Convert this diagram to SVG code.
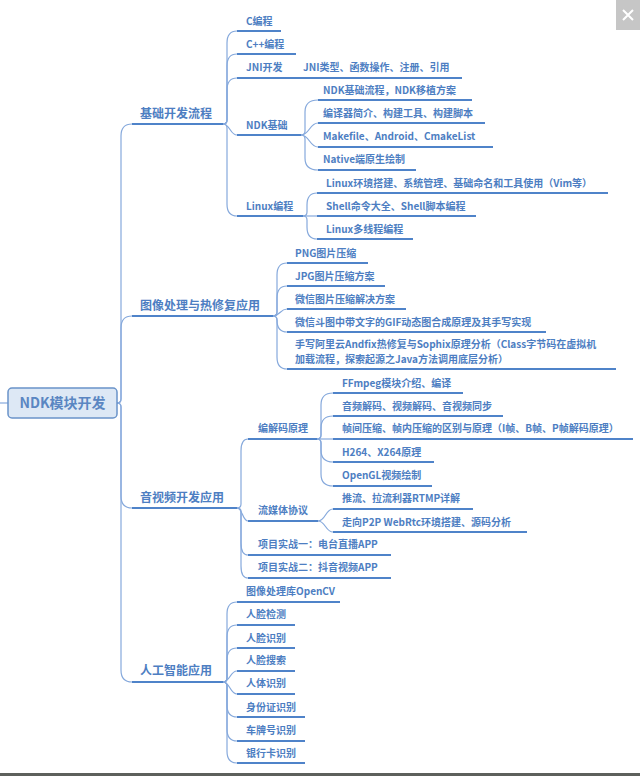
<svg xmlns="http://www.w3.org/2000/svg" width="640" height="776" viewBox="0 0 640 776">
<style>
.t{font-family:"Noto Sans CJK SC","Noto Sans",sans-serif;font-size:10px;font-weight:bold;fill:#4d7ec2}
.t1{font-size:12px}
.tr{font-size:14px;fill:#5a86c2}
.u{stroke:#4f83c9;stroke-width:2;fill:none}
.c{stroke:#86a9dc;stroke-width:1.2;fill:none}
</style>
<rect width="640" height="776" fill="#ffffff"/>
<g id="connectors">
<path class="c" d="M0 403H8"/>
<path class="c" d="M117 403Q121 403 121 399V136Q121 124 132 124"/>
<path class="c" d="M117 403Q121 403 121 399V328Q121 316 132 316"/>
<path class="c" d="M117 403Q121 403 121 407V496Q121 508 132 508"/>
<path class="c" d="M117 403Q121 403 121 407V670Q121 682 132 682"/>
<path class="c" d="M223 124Q227 124 227 120V43Q227 31 237 31"/>
<path class="c" d="M223 124Q227 124 227 120V66Q227 54 237 54"/>
<path class="c" d="M223 124Q227 124 227 120V90Q227 78 237 78"/>
<path class="c" d="M223 124C230 124 230 135 237 135"/>
<path class="c" d="M223 124Q227 124 227 128V204Q227 216 237 216"/>
<path class="c" d="M301 135Q305 135 305 131V112Q305 100 318 100"/>
<path class="c" d="M301 135C309.5 135 309.5 123 318 123"/>
<path class="c" d="M301 135C309.5 135 309.5 147 318 147"/>
<path class="c" d="M301 135Q305 135 305 139V158Q305 170 318 170"/>
<path class="c" d="M303 216Q307 216 307 212V205Q307 193 317 193"/>
<path class="c" d="M303 216H317"/>
<path class="c" d="M303 216Q307 216 307 220V227Q307 239 317 239"/>
<path class="c" d="M273 316Q277 316 277 312V275Q277 263 287 263"/>
<path class="c" d="M273 316Q277 316 277 312V298Q277 286 287 286"/>
<path class="c" d="M273 316C280 316 280 309 287 309"/>
<path class="c" d="M273 316Q277 316 277 320Q277 332 287 332"/>
<path class="c" d="M273 316Q277 316 277 320V357Q277 369 287 369"/>
<path class="c" d="M237 508Q241 508 241 504V451Q241 439 248 439"/>
<path class="c" d="M237 508C242.5 508 242.5 521 248 521"/>
<path class="c" d="M237 508Q241 508 241 512V543Q241 555 248 555"/>
<path class="c" d="M237 508Q241 508 241 512V566Q241 578 248 578"/>
<path class="c" d="M317 439Q321 439 321 435V405Q321 393 333 393"/>
<path class="c" d="M317 439Q321 439 321 435V428Q321 416 333 416"/>
<path class="c" d="M317 439H333"/>
<path class="c" d="M317 439Q321 439 321 443V450Q321 462 333 462"/>
<path class="c" d="M317 439Q321 439 321 443V474Q321 486 333 486"/>
<path class="c" d="M318 521C325.5 521 325.5 509 333 509"/>
<path class="c" d="M318 521C325.5 521 325.5 532 333 532"/>
<path class="c" d="M223 682Q227 682 227 678V614Q227 602 237 602"/>
<path class="c" d="M223 682Q227 682 227 678V637Q227 625 237 625"/>
<path class="c" d="M223 682Q227 682 227 678V660Q227 648 237 648"/>
<path class="c" d="M223 682C230 682 230 671 237 671"/>
<path class="c" d="M223 682C230 682 230 694 237 694"/>
<path class="c" d="M223 682Q227 682 227 686V705Q227 717 237 717"/>
<path class="c" d="M223 682Q227 682 227 686V729Q227 741 237 741"/>
<path class="c" d="M223 682Q227 682 227 686V751Q227 763 237 763"/>
</g>
<g id="root">
<rect x="8" y="388" width="109" height="30" rx="4" fill="#dde8f5" stroke="#6a93c9" stroke-width="1.5"/>
<text class="t tr" x="62.5" y="408" text-anchor="middle">NDK模块开发</text>
</g>
<g id="n-jichu"><text class="t t1" x="140" y="118">基础开发流程</text><path class="u" d="M132 124H223"/></g>
<g id="n-c"><text class="t" x="246" y="25">C编程</text><path class="u" d="M237 31H281"/></g>
<g id="n-cpp"><text class="t" x="246" y="48">C++编程</text><path class="u" d="M237 54H296"/></g>
<g id="n-jni"><text class="t" x="246" y="71">JNI开发</text><path class="u" d="M237 78H300"/></g>
<g id="n-jni-1"><text class="t" x="303" y="71">JNI类型、函数操作、注册、引用</text><path class="u" d="M300 78H462"/></g>
<g id="n-ndk"><text class="t" x="246" y="129">NDK基础</text><path class="u" d="M237 135H301"/></g>
<g id="n-ndk-1"><text class="t" x="323" y="94">NDK基础流程，NDK移植方案</text><path class="u" d="M318 100H472"/></g>
<g id="n-ndk-2"><text class="t" x="323" y="117">编译器简介、构建工具、构建脚本</text><path class="u" d="M318 123H485"/></g>
<g id="n-ndk-3"><text class="t" x="323" y="140">Makefile、Android、CmakeList</text><path class="u" d="M318 147H493"/></g>
<g id="n-ndk-4"><text class="t" x="323" y="163">Native端原生绘制</text><path class="u" d="M318 170H416"/></g>
<g id="n-linux"><text class="t" x="246" y="210">Linux编程</text><path class="u" d="M237 216H303"/></g>
<g id="n-linux-1"><text class="t" x="326" y="187">Linux环境搭建、系统管理、基础命名和工具使用（Vim等）</text><path class="u" d="M317 193H608"/></g>
<g id="n-linux-2"><text class="t" x="326" y="210">Shell命令大全、Shell脚本编程</text><path class="u" d="M317 216H476"/></g>
<g id="n-linux-3"><text class="t" x="326" y="233">Linux多线程编程</text><path class="u" d="M317 239H413"/></g>
<g id="n-img"><text class="t t1" x="140" y="310">图像处理与热修复应用</text><path class="u" d="M132 316H273"/></g>
<g id="n-img-1"><text class="t" x="295" y="257">PNG图片压缩</text><path class="u" d="M287 263H368"/></g>
<g id="n-img-2"><text class="t" x="295" y="280">JPG图片压缩方案</text><path class="u" d="M287 286H385"/></g>
<g id="n-img-3"><text class="t" x="295" y="303">微信图片压缩解决方案</text><path class="u" d="M287 309H406"/></g>
<g id="n-img-4"><text class="t" x="295" y="326">微信斗图中带文字的GIF动态图合成原理及其手写实现</text><path class="u" d="M287 332H546"/></g>
<g id="n-img-5"><text class="t" x="295" y="348">手写阿里云Andfix热修复与Sophix原理分析（Class字节码在虚拟机</text><text class="t" x="295" y="363">加载流程，探索起源之Java方法调用底层分析）</text><path class="u" d="M287 369H616"/></g>
<g id="n-av"><text class="t t1" x="140" y="502">音视频开发应用</text><path class="u" d="M132 508H237"/></g>
<g id="n-codec"><text class="t" x="258" y="432">编解码原理</text><path class="u" d="M248 439H317"/></g>
<g id="n-codec-1"><text class="t" x="342" y="387">FFmpeg模块介绍、编译</text><path class="u" d="M333 393H463"/></g>
<g id="n-codec-2"><text class="t" x="342" y="410">音频解码、视频解码、音视频同步</text><path class="u" d="M333 416H503"/></g>
<g id="n-codec-3"><text class="t" x="342" y="432">帧间压缩、帧内压缩的区别与原理（I帧、B帧、P帧解码原理）</text><path class="u" d="M333 439H633"/></g>
<g id="n-codec-4"><text class="t" x="342" y="456">H264、X264原理</text><path class="u" d="M333 462H434"/></g>
<g id="n-codec-5"><text class="t" x="342" y="479">OpenGL视频绘制</text><path class="u" d="M333 486H432"/></g>
<g id="n-stream"><text class="t" x="258" y="514">流媒体协议</text><path class="u" d="M248 521H318"/></g>
<g id="n-stream-1"><text class="t" x="342" y="502">推流、拉流利器RTMP详解</text><path class="u" d="M333 509H473"/></g>
<g id="n-stream-2"><text class="t" x="342" y="526">走向P2P WebRtc环境搭建、源码分析</text><path class="u" d="M333 532H527"/></g>
<g id="n-proj1"><text class="t" x="258" y="548">项目实战一：电台直播APP</text><path class="u" d="M248 555H391"/></g>
<g id="n-proj2"><text class="t" x="258" y="571">项目实战二：抖音视频APP</text><path class="u" d="M248 578H391"/></g>
<g id="n-ai"><text class="t t1" x="140" y="675">人工智能应用</text><path class="u" d="M132 682H223"/></g>
<g id="n-ai-1"><text class="t" x="246" y="595">图像处理库OpenCV</text><path class="u" d="M237 602H340"/></g>
<g id="n-ai-2"><text class="t" x="246" y="618">人脸检测</text><path class="u" d="M237 625H295"/></g>
<g id="n-ai-3"><text class="t" x="246" y="642">人脸识别</text><path class="u" d="M237 648H295"/></g>
<g id="n-ai-4"><text class="t" x="246" y="664">人脸搜索</text><path class="u" d="M237 671H295"/></g>
<g id="n-ai-5"><text class="t" x="246" y="687">人体识别</text><path class="u" d="M237 694H295"/></g>
<g id="n-ai-6"><text class="t" x="246" y="711">身份证识别</text><path class="u" d="M237 717H305"/></g>
<g id="n-ai-7"><text class="t" x="246" y="734">车牌号识别</text><path class="u" d="M237 741H305"/></g>
<g id="n-ai-8"><text class="t" x="246" y="757">银行卡识别</text><path class="u" d="M237 763H305"/></g>
<g id="close-button">
<rect x="616" y="0" width="24" height="30" fill="#c6c6c6"/>
<path d="M623 10L633 20M633 10L623 20" stroke="#ffffff" stroke-width="2"/>
</g>
<rect x="0" y="773" width="640" height="3" fill="#5d605c"/>
</svg>
